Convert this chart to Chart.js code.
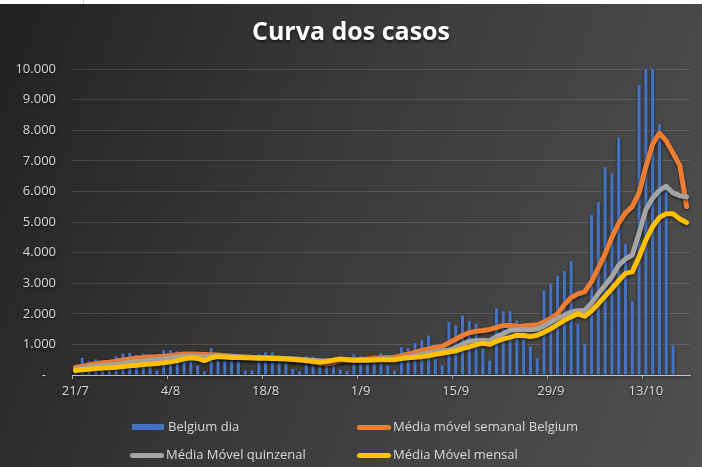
<!DOCTYPE html>
<html>
<head>
<meta charset="utf-8">
<script src="https://cdn.jsdelivr.net/npm/chart.js@4.4.1/dist/chart.umd.min.js"></script>
<style>
  html, body { margin: 0; padding: 0; }
  body { width: 702px; height: 467px; overflow: hidden; position: relative;
         background: linear-gradient(110deg, #222222 0%, #3a3a3a 45%, #505050 100%);
         font-family: 'Open Sans', sans-serif; }
  #topstrip { position: absolute; left: 0; top: 0; width: 702px; height: 4px; background: #fff; z-index: 2; }
  #topstrip div { position: absolute; left: 83px; top: 0; width: 1px; height: 4px; background: #d4d4d4; }
  #wrap { position: absolute; left: 0; top: 0; width: 702px; height: 467px; }
  .lg { position: absolute; color: #d9d9d9; font-size: 13px; line-height: 16px; white-space: nowrap; }
  .sw { position: absolute; }
</style>
</head>
<body>
<div id="topstrip"><div></div></div>
<div id="wrap"><canvas id="casos"></canvas></div>
<div id="legend"></div>
<script>
// === DATA ===
const dias = ['21/7','22/7','23/7','24/7','25/7','26/7','27/7','28/7','29/7','30/7','31/7',
  '1/8','2/8','3/8','4/8','5/8','6/8','7/8','8/8','9/8','10/8','11/8','12/8','13/8','14/8','15/8',
  '16/8','17/8','18/8','19/8','20/8','21/8','22/8','23/8','24/8','25/8','26/8','27/8','28/8','29/8',
  '30/8','31/8','1/9','2/9','3/9','4/9','5/9','6/9','7/9','8/9','9/9','10/9','11/9','12/9','13/9',
  '14/9','15/9','16/9','17/9','18/9','19/9','20/9','21/9','22/9','23/9','24/9','25/9','26/9','27/9',
  '28/9','29/9','30/9','1/10','2/10','3/10','4/10','5/10','6/10','7/10','8/10','9/10','10/10','11/10',
  '12/10','13/10','14/10','15/10','16/10','17/10','18/10','19/10'];

const belgiumDia = [250,555,445,510,250,200,610,700,720,655,700,300,145,810,810,775,775,755,310,120,
  875,700,680,650,620,145,150,690,740,740,650,620,200,120,620,600,560,540,530,175,
  130,670,620,600,655,720,305,140,910,875,1040,1130,1290,525,305,1730,1620,1950,1760,1675,
  870,470,2170,2080,2090,1785,1210,930,545,2770,2970,3230,3400,3720,1675,1020,5235,5650,6790,6580,
  7755,4280,2410,9475,10500,10500,8190,6120,960,30,0];

const mediaSemanal = [250,290,330,370,400,420,450,490,520,545,570,585,595,610,635,660,675,690,680,670,
  660,650,630,610,600,580,570,560,550,540,530,520,510,490,460,420,380,370,400,460,
  480,490,500,520,540,560,570,580,635,680,740,800,855,910,930,1050,1170,1290,1380,1430,
  1455,1490,1550,1620,1620,1590,1600,1620,1640,1730,1850,2000,2300,2530,2650,2720,3050,3500,3950,4500,
  4960,5300,5500,5950,6800,7550,7900,7650,7250,6850,5500];

const mediaQuinzenal = [200,230,260,290,310,330,350,380,410,440,460,480,500,520,550,580,610,620,610,580,
  620,630,620,610,600,590,580,575,570,560,550,540,530,515,500,480,460,460,480,510,
  500,490,495,500,510,520,520,520,560,590,620,680,720,760,790,810,900,1000,1100,1120,
  1130,1120,1250,1350,1460,1480,1480,1480,1500,1600,1730,1850,1950,2060,2100,2110,2350,2660,2930,3210,
  3590,3790,3920,4630,5400,5780,6030,6170,5950,5860,5820];

const mediaMensal = [150,170,190,210,225,240,255,280,300,320,345,360,375,400,430,470,530,560,540,470,
  560,600,590,570,570,560,555,550,545,540,530,520,510,490,470,440,420,440,480,525,
  500,480,480,485,490,500,500,500,540,560,580,600,630,680,710,750,790,860,920,990,
  1040,1000,1100,1180,1230,1300,1290,1260,1300,1400,1510,1650,1785,1900,2000,1920,2100,2330,2580,2825,
  3080,3320,3370,3860,4410,4850,5150,5270,5270,5100,4980];

const yMax = 10000;
const yStep = 1000;
const labelEvery = 14;

// === CHART ===
const txt = '#d9d9d9';
const font13 = { family: "'Open Sans', sans-serif", size: 13 };

const lineDs = (label, data, color, order) => ({
  type: 'line', label, data, borderColor: color, backgroundColor: color,
  borderWidth: 5, pointRadius: 0, tension: 0, fill: false,
  borderCapStyle: 'round', borderJoinStyle: 'round', order
});

// small text shadow under the title, as in the original
const titleShadow = {
  id: 'titleShadow',
  beforeDraw(c) { c.ctx.save(); c.ctx.shadowColor = 'rgba(0,0,0,0.6)'; c.ctx.shadowBlur = 3; c.ctx.shadowOffsetY = 1.5; },
  afterDraw(c) { c.ctx.restore(); }
};

const chart = new Chart(document.getElementById('casos'), {
  type: 'bar',
  data: {
    labels: dias,
    datasets: [
      { label: 'Belgium dia', data: belgiumDia, backgroundColor: '#4472C4',
        barPercentage: 0.45, categoryPercentage: 1, order: 4 },
      lineDs('Média móvel semanal Belgium', mediaSemanal, '#ED7D31', 3),
      lineDs('Média Móvel quinzenal', mediaQuinzenal, '#A5A5A5', 2),
      lineDs('Média Móvel mensal', mediaMensal, '#FFC000', 1)
    ]
  },
  options: {
    responsive: true,
    maintainAspectRatio: false,
    animation: false,
    layout: { padding: { left: 0, right: 0, top: 0, bottom: 67 } },
    plugins: {
      legend: { display: false },
      tooltip: { enabled: false },
      title: {
        display: true, text: 'Curva dos casos', color: '#ffffff',
        font: { family: "'Open Sans', sans-serif", size: 25, weight: 'bold' },
        padding: { top: 18, bottom: 21 }
      }
    },
    scales: {
      x: {
        offset: true,
        grid: {
          offset: true, drawOnChartArea: false, drawTicks: true, tickLength: 4,
          color: (c) => (c.index % labelEvery === 0 ? '#bfbfbf' : 'rgba(0,0,0,0)')
        },
        border: { display: true, color: '#bfbfbf', width: 1 },
        ticks: {
          autoSkip: false, maxRotation: 0, minRotation: 0, padding: 4,
          color: txt, font: font13,
          callback: (v, i) => (i % labelEvery === 0 ? dias[i] : '')
        },
        afterFit: (s) => { s.height = 25; }
      },
      y: {
        min: 0, max: yMax,
        grid: { color: 'rgba(255,255,255,0.13)', drawTicks: false },
        border: { display: false },
        ticks: {
          stepSize: yStep, padding: 16, color: txt, font: font13,
          callback: (v) => (v === 0 ? '-   ' : String(v).replace(/\B(?=(\d{3})+(?!\d))/g, '.'))
        },
        afterFit: (s) => { s.width = 72; }
      },
      // empty right margin so the title stays centred on the whole picture
      yRight: {
        position: 'right', display: true,
        grid: { display: false }, border: { display: false }, ticks: { display: false },
        afterFit: (s) => { s.width = 12; }
      }
    }
  },
  plugins: [titleShadow]
});

// === LEGEND (two rows, two columns, like the original) ===
const legendPos = [[132, 427], [357, 427], [130, 455], [357, 455]];
const legend = document.getElementById('legend');
chart.data.datasets.forEach((ds, i) => {
  const [x, y] = legendPos[i];
  const sw = document.createElement('div');
  sw.className = 'sw';
  if (ds.type === 'line') {
    sw.style.cssText = `left:${x}px;top:${y - 2.5}px;width:34px;height:5px;border-radius:3px;background:${ds.borderColor}`;
  } else {
    sw.style.cssText = `left:${x}px;top:${y - 3}px;width:32px;height:6px;background:${ds.backgroundColor}`;
  }
  const lb = document.createElement('div');
  lb.className = 'lg';
  lb.textContent = ds.label;
  lb.style.left = (x + 36) + 'px';
  lb.style.top = (y - 9) + 'px';
  legend.appendChild(sw);
  legend.appendChild(lb);
});
</script>
</body>
</html>
